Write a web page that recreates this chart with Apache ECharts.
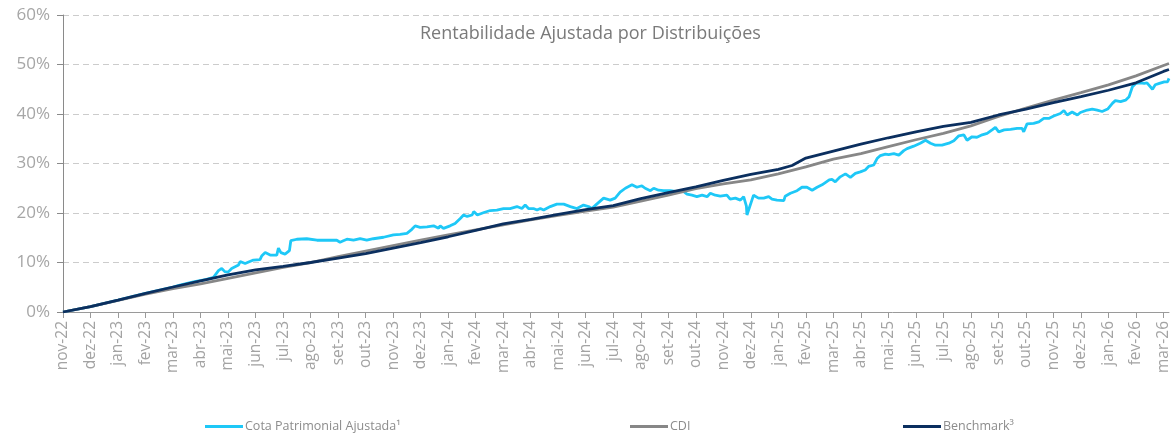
<!DOCTYPE html>
<html lang="pt">
<head>
    <meta charset="UTF-8">
    <title>Rentabilidade Ajustada por Distribuições</title>
    <script src="https://cdn.jsdelivr.net/npm/echarts@6/dist/echarts.min.js" type="text/javascript"></script>
    <style>
        html, body {margin: 0; padding: 0; background: #fff;}
        #main {width: 1175px; height: 433px;}
    </style>
</head>
<body>
    <div id="main"></div>
    <script>
        // month labels, one per tick (x = month index)
        var months = ['nov-22','dez-22','jan-23','fev-23','mar-23','abr-23','mai-23','jun-23','jul-23','ago-23',
            'set-23','out-23','nov-23','dez-23','jan-24','fev-24','mar-24','abr-24','mai-24','jun-24',
            'jul-24','ago-24','set-24','out-24','nov-24','dez-24','jan-25','fev-25','mar-25','abr-25',
            'mai-25','jun-25','jul-25','ago-25','set-25','out-25','nov-25','dez-25','jan-26','fev-26','mar-26'];

        // [month index, % acumulado]
        var cota = [[0,0],[1,1.07],[2,2.4],[3,3.75],[4,5.05],[4.25,5.45],[4.74,6.1],[5.22,6.6],[5.47,7.0],[5.65,8.35],
            [5.77,8.8],[5.89,8.1],[6.01,8.1],[6.13,8.8],[6.38,9.5],[6.44,10.2],[6.62,9.8],[6.92,10.5],[7.16,10.6],[7.22,11.3],
            [7.35,12.0],[7.53,11.5],[7.77,11.5],[7.83,12.9],[7.92,12.0],[8.07,11.7],[8.23,12.4],[8.28,14.4],[8.5,14.7],[8.86,14.8],
            [9.23,14.5],[9.59,14.5],[9.95,14.5],[10.07,14.1],[10.19,14.4],[10.32,14.7],[10.56,14.5],[10.8,14.8],[11.04,14.5],[11.28,14.8],
            [11.65,15.1],[12.01,15.6],[12.25,15.7],[12.5,15.9],[12.68,16.7],[12.8,17.4],[12.98,17.1],[13.23,17.2],[13.47,17.4],[13.65,16.9],
            [13.71,17.4],[13.83,16.9],[14.07,17.4],[14.25,17.9],[14.44,18.9],[14.56,19.6],[14.69,19.3],[14.87,19.6],[14.93,20.3],[15.0,20.6],
            [15.06,19.6],[15.3,20.1],[15.53,20.5],[15.77,20.6],[16.01,20.9],[16.25,20.9],[16.5,21.3],[16.68,20.9],[16.8,21.6],[16.86,22.0],
            [16.92,20.9],[17.1,20.9],[17.23,20.6],[17.35,20.9],[17.47,20.6],[17.71,21.3],[17.95,21.8],[18.2,21.8],[18.44,21.3],[18.68,20.9],
            [18.92,21.6],[19.1,21.3],[19.22,20.9],[19.4,21.8],[19.65,23.0],[19.89,22.6],[20.07,23.0],[20.25,24.2],[20.44,25.0],[20.68,25.7],
            [20.86,25.2],[21.04,25.5],[21.16,25.0],[21.35,24.5],[21.47,25.0],[21.65,24.6],[21.83,24.5],[22.07,24.5],[22.32,24.3],[22.56,24.3],
            [22.68,23.8],[22.86,23.6],[23.04,23.3],[23.23,23.6],[23.41,23.3],[23.53,24.0],[23.71,23.6],[23.89,23.4],[24.13,23.6],[24.25,22.8],
            [24.44,23.0],[24.62,22.6],[24.74,23.3],[24.84,21.4],[24.86,19.6],[24.92,20.6],[25.04,22.6],[25.1,23.6],[25.28,23.0],[25.47,23.0],
            [25.65,23.3],[25.77,22.8],[25.95,22.6],[26.2,22.5],[26.25,23.4],[26.44,24.0],[26.68,24.5],[26.86,25.2],[27.04,25.2],[27.23,24.6],
            [27.41,25.2],[27.59,25.7],[27.85,26.7],[27.95,26.8],[28.07,26.3],[28.25,27.3],[28.44,27.9],[28.62,27.2],[28.8,28.0],[28.98,28.3],
            [29.16,28.7],[29.28,29.4],[29.47,29.7],[29.59,31.0],[29.71,31.6],[29.89,31.9],[30.01,31.8],[30.2,32.0],[30.38,31.7],[30.56,32.6],
            [30.68,33.0],[30.92,33.5],[31.16,34.1],[31.35,34.7],[31.53,34.1],[31.71,33.7],[31.95,33.7],[32.2,34.1],[32.38,34.6],[32.56,35.6],
            [32.74,35.8],[32.86,34.7],[33.04,35.4],[33.22,35.3],[33.41,35.8],[33.59,36.1],[33.77,36.8],[33.89,37.3],[34.01,36.4],[34.21,36.8],
            [34.44,36.9],[34.68,37.1],[34.86,37.1],[34.92,36.4],[35.04,38.0],[35.28,38.1],[35.47,38.4],[35.65,39.1],[35.83,39.1],[36.01,39.6],
            [36.25,40.1],[36.38,40.7],[36.5,39.8],[36.68,40.4],[36.87,39.8],[36.98,40.3],[37.23,40.8],[37.41,41.0],[37.59,40.8],[37.77,40.5],
            [37.97,41.0],[38.15,42.2],[38.25,42.7],[38.44,42.5],[38.62,42.8],[38.75,43.5],[38.87,45.5],[39.0,46.2],[39.16,46.3],[39.3,46.2],
            [39.4,46.3],[39.6,45.0],[39.7,45.9],[39.85,46.2],[40.03,46.5],[40.15,46.5],[40.2,47.2]];

        var cdi = [[0,0],[1,1.07],[2,2.35],[3,3.6],[4,4.7],[5,5.7],[6,6.8],[7,7.9],[8,9.0],[9,10.0],
            [10,11.2],[11,12.3],[12,13.4],[13,14.5],[14,15.6],[15,16.6],[16,17.6],[17,18.6],[18,19.5],[19,20.4],
            [20,21.2],[21,22.4],[22,23.6],[23,24.9],[24,25.9],[25,26.7],[26,27.9],[27,29.3],[28,30.9],[29,32.0],
            [30,33.4],[31,34.8],[32,36.1],[33,37.6],[34,39.5],[35,41.2],[36,42.8],[37,44.3],[38,45.9],[39,47.7],
            [40,49.8],[40.2,50.2]];

        var benchmark = [[0,0],[1,1.07],[2,2.4],[3,3.75],[4,5.05],[5,6.3],[6,7.5],[7,8.5],[8,9.2],[9,10.0],
            [10,10.9],[11,11.8],[12,12.9],[13,14.0],[14,15.2],[15,16.5],[16,17.8],[17,18.7],[18,19.7],[19,20.7],
            [20,21.5],[21,22.9],[22,24.1],[23,25.3],[24,26.6],[25,27.8],[26,28.8],[26.5,29.6],[27,31.1],[28,32.5],
            [29,33.9],[30,35.2],[31,36.4],[32,37.5],[33,38.3],[34,39.8],[35,41.0],[36,42.3],[37,43.5],[38,44.8],
            [39,46.3],[40,48.6],[40.2,49.0]];

        var names = ['Cota Patrimonial Ajustada¹', 'CDI', 'Benchmark³'];
        var colors = ['#1ec8f7', '#878787', '#0b2f5f'];
        var font = '"Open Sans", sans-serif';

        var myChart = echarts.init(document.getElementById('main'));
        var option = {
            animation: false,
            color: colors,
            title: {
                text: 'Rentabilidade Ajustada por Distribuições',
                left: 415,
                top: 20,
                textStyle: {fontFamily: font, fontSize: 18, fontWeight: 'normal', color: '#7a7a7a'}
            },
            legend: [
                {data: [names[0]], left: 200, top: 415},
                {data: [names[1]], left: 625, top: 415},
                {data: [names[2]], left: 898, top: 415}
            ].map(function (l) {
                l.icon = 'rect';
                l.itemWidth = 38;
                l.itemHeight = 3;
                l.itemGap = 0;
                l.textStyle = {fontFamily: font, fontSize: 12.5, color: '#8c8c8c', padding: [0, 0, 0, -3]};
                return l;
            }),
            grid: {left: 63, right: 6, top: 15, bottom: 121},
            xAxis: {
                type: 'value',
                min: 0,
                max: 40.2,
                interval: 1,
                axisLine: {lineStyle: {color: '#9a9a9a', width: 1}},
                axisTick: {show: true, length: 6, lineStyle: {color: '#9a9a9a'}},
                splitLine: {show: false},
                axisLabel: {
                    rotate: 90,
                    margin: 9,
                    fontFamily: font,
                    fontSize: 15.5,
                    color: '#a3a3a3',
                    showMaxLabel: false,
                    formatter: function (value) {
                        return Number.isInteger(value) ? months[value] : '';
                    }
                }
            },
            yAxis: {
                type: 'value',
                min: 0,
                max: 60,
                interval: 10,
                axisLine: {show: true, lineStyle: {color: '#8a8a8a', width: 1}},
                axisTick: {show: true, length: 6, lineStyle: {color: '#8a8a8a'}},
                splitLine: {lineStyle: {color: '#cccccc', type: [6, 4], width: 1}},
                axisLabel: {
                    margin: 13,
                    fontFamily: font,
                    fontSize: 17,
                    color: '#a6a6a6',
                    formatter: '{value}%'
                }
            },
            series: [{
                name: names[0],
                type: 'line',
                showSymbol: false,
                lineStyle: {width: 2.8},
                data: cota
            }, {
                name: names[1],
                type: 'line',
                showSymbol: false,
                lineStyle: {width: 2.8},
                data: cdi
            }, {
                name: names[2],
                type: 'line',
                showSymbol: false,
                lineStyle: {width: 2.8},
                data: benchmark
            }]
        };
        myChart.setOption(option);
    </script>
</body>
</html>
